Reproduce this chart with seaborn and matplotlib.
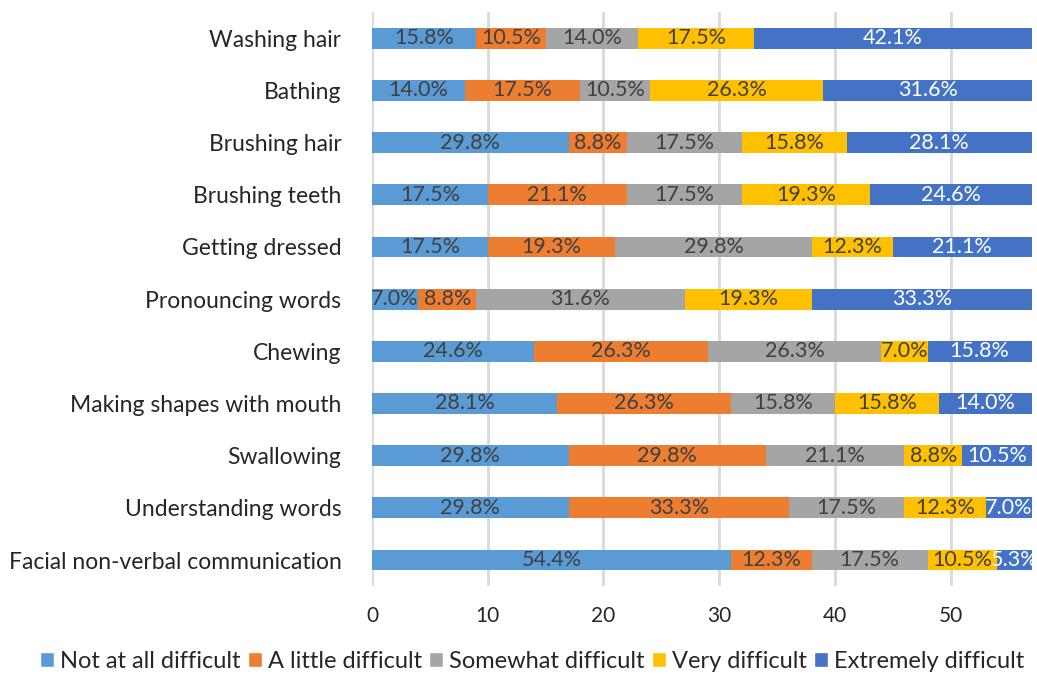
import numpy as np
import pandas as pd
import matplotlib.pyplot as plt
import seaborn as sns
from matplotlib.patches import Patch

# Survey responses (counts out of 57), one list per difficulty level
activities = ["Washing hair", "Bathing", "Brushing hair", "Brushing teeth",
              "Getting dressed", "Pronouncing words", "Chewing",
              "Making shapes with mouth", "Swallowing", "Understanding words",
              "Facial non-verbal communication"]
levels = ["Not at all difficult", "A little difficult", "Somewhat difficult",
          "Very difficult", "Extremely difficult"]
not_at_all = [9, 8, 17, 10, 10, 4, 14, 16, 17, 17, 31]
a_little = [6, 10, 5, 12, 11, 5, 15, 15, 17, 19, 7]
somewhat = [8, 6, 10, 10, 17, 18, 15, 9, 12, 10, 10]
very = [10, 15, 9, 11, 7, 11, 4, 9, 5, 7, 6]
extremely = [24, 18, 16, 14, 12, 19, 9, 8, 6, 4, 3]
n_total = 57

colors = ["#5B9BD5", "#ED7D31", "#A5A5A5", "#FFC000", "#4472C4"]
text_colors = ["#404040", "#404040", "#404040", "#404040", "white"]

counts = np.array([not_at_all, a_little, somewhat, very, extremely]).T
cum = counts.cumsum(axis=1)

sns.set_theme(style="white")
plt.rcParams['font.family'] = ['Lato', 'DejaVu Sans']

fig = plt.figure(figsize=(10.37, 6.76), dpi=100)
ax = fig.add_axes([0.3587, 0.133, 0.6363, 0.849])

# stacked bars: draw cumulative totals from the outermost layer inward
for i in reversed(range(len(levels))):
    df = pd.DataFrame({"activity": activities, "value": cum[:, i]})
    sns.barplot(data=df, x="value", y="activity", color=colors[i],
                width=0.4, saturation=1, linewidth=0, ax=ax, zorder=3)

# percentage labels in the middle of each segment
for r in range(len(activities)):
    for i in range(len(levels)):
        c = counts[r, i]
        mid = cum[r, i] - c / 2
        ax.text(mid, r, f"{100 * c / n_total:.1f}%", ha="center", va="center",
                fontsize=15.5, color=text_colors[i], zorder=4)

ax.set_xlim(0, 57)
ax.set_ylim(len(activities) - 0.5, -0.5)
ax.set_xticks(range(0, 51, 10))
ax.grid(axis="x", color="#D9D9D9", linewidth=2, zorder=0)
ax.set_xlabel("")
ax.set_ylabel("")
for s in ax.spines.values():
    s.set_visible(False)
ax.tick_params(axis="y", labelsize=16.5, labelcolor="#262626", pad=22, length=0)
ax.tick_params(axis="x", labelsize=15, labelcolor="#262626", pad=14, length=0)

handles = [Patch(facecolor=c, label=l) for c, l in zip(colors, levels)]
fig.legend(handles=handles, loc="center", bbox_to_anchor=(0.513, 0.022),
           ncol=5, frameon=False, fontsize=17, handlelength=0.6,
           handleheight=0.6, handletextpad=0.25, columnspacing=0.3,
           labelcolor="#262626")

fig.savefig("out.png", dpi=100)
